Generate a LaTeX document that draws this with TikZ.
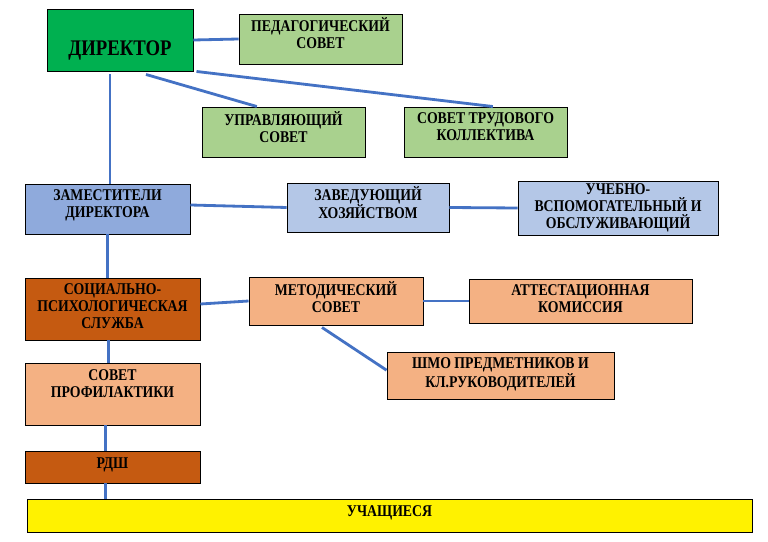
\documentclass[tikz,border=0pt]{standalone}
\usepackage{fontspec}
\setmainfont{Liberation Serif}[FakeStretch=0.84]
\definecolor{dirgreen}{HTML}{00B050}
\definecolor{lightgreen}{HTML}{A9D18E}
\definecolor{midblue}{HTML}{8FAADC}
\definecolor{paleblue}{HTML}{B4C7E7}
\definecolor{rust}{HTML}{C55A11}
\definecolor{peach}{HTML}{F4B183}
\definecolor{linkblue}{HTML}{4472C4}
\tikzset{
  orgbox/.style={draw=black, line width=0.8pt, inner sep=0pt, align=center,
    font=\bfseries\fontsize{14}{14.5}\selectfont},
  textlift/.style={text depth=#1},
  link/.style={draw=linkblue, line width=2.4pt}
}
\begin{document}
\begin{tikzpicture}[x=0.03cm, y=-0.03cm]
    \useasboundingbox (0,0) rectangle (768,542);

    % Draw the top level
    \node[orgbox, fill=dirgreen, minimum width=4.38cm, minimum height=1.86cm,
      font=\bfseries\fontsize{19}{19}\selectfont, text height=26pt, text depth=0pt]
      (dir) at (120,40) {ДИРЕКТОР};
    \node[orgbox, fill=lightgreen, minimum width=4.89cm, minimum height=1.5cm, textlift=10pt]
      (ped) at (320.5,39) {ПЕДАГОГИЧЕСКИЙ\\СОВЕТ};
    \node[orgbox, fill=lightgreen, minimum width=4.89cm, minimum height=1.5cm, textlift=8.5pt]
      (upr) at (283.5,132) {УПРАВЛЯЮЩИЙ\\СОВЕТ};
    \node[orgbox, fill=lightgreen, minimum width=4.89cm, minimum height=1.5cm, textlift=8.5pt]
      (stk) at (485.5,132) {СОВЕТ ТРУДОВОГО\\КОЛЛЕКТИВА};

    % Draw the deputies row
    \node[orgbox, fill=midblue, minimum width=4.95cm, minimum height=1.5cm, textlift=8.5pt]
      (zam) at (107.5,209) {ЗАМЕСТИТЕЛИ\\ДИРЕКТОРА};
    \node[orgbox, fill=paleblue, minimum width=4.86cm, minimum height=1.47cm, textlift=8.5pt]
      (zav) at (368,207.5) {ЗАВЕДУЮЩИЙ\\ХОЗЯЙСТВОМ};
    \node[orgbox, fill=paleblue, minimum width=6cm, minimum height=1.62cm]
      (uchv) at (618,208) {УЧЕБНО-\\ВСПОМОГАТЕЛЬНЫЙ И\\ОБСЛУЖИВАЮЩИЙ};

    % Draw the services
    \node[orgbox, fill=rust, minimum width=5.25cm, minimum height=1.86cm, textlift=5pt]
      (soc) at (112.5,309) {СОЦИАЛЬНО-\\ПСИХОЛОГИЧЕСКАЯ\\СЛУЖБА};
    \node[orgbox, fill=peach, minimum width=5.22cm, minimum height=1.44cm, textlift=7pt]
      (met) at (336,301) {МЕТОДИЧЕСКИЙ\\СОВЕТ};
    \node[orgbox, fill=peach, minimum width=6.69cm, minimum height=1.32cm, textlift=3.5pt]
      (att) at (580.5,301) {АТТЕСТАЦИОННАЯ\\КОМИССИЯ};
    \node[orgbox, fill=peach, minimum width=6.81cm, minimum height=1.41cm, textlift=5pt]
      (shmo) at (500.5,375.5) {ШМО ПРЕДМЕТНИКОВ И\\КЛ.РУКОВОДИТЕЛЕЙ};
    \node[orgbox, fill=peach, minimum width=5.25cm, minimum height=1.86cm, textlift=17pt]
      (prof) at (112.5,394) {СОВЕТ\\ПРОФИЛАКТИКИ};
    \node[orgbox, fill=rust, minimum width=5.25cm, minimum height=0.96cm, textlift=7pt]
      (rdsh) at (112.5,467) {РДШ};
    \node[orgbox, fill=yellow, minimum width=21.75cm, minimum height=0.99cm, textlift=7pt]
      (uch) at (389.5,515.5) {УЧАЩИЕСЯ};

    % Draw the links from the director
    \draw[link] (dir.east) -- (ped.west);
    \draw[link] ([xshift=0.78cm,yshift=-0.09cm]dir.south) -- ([xshift=-0.8cm]upr.north);
    \draw[link] ([xshift=0.09cm]dir.south east) -- ([xshift=0.22cm]stk.north);
    \draw[link] ([xshift=-0.3cm,yshift=-0.09cm]dir.south) -- ([xshift=-0.3cm]dir.south |- zam.north);

    % Draw the horizontal links
    \draw[link] ([yshift=0.12cm]zam.east) -- (zav.west);
    \draw[link] ([yshift=0.15cm]soc.east) -- (met.west);
    \foreach \a/\b in {zav/uchv, met/att}
    \draw[link] (\a.east) -- (\b.west);
    \draw[link] ([xshift=-0.42cm,yshift=-0.06cm]met.south) -- ([yshift=0.16cm]shmo.west);

    % Draw the left column
    \draw[link] (zam.south) -- (zam.south |- soc.north);
    \draw[link] ([xshift=-0.13cm]soc.south) -- ([xshift=-0.13cm]prof.north);
    \draw[link] ([xshift=-0.22cm]prof.south) -- ([xshift=-0.22cm]rdsh.north);
    \draw[link] ([xshift=-0.22cm]rdsh.south) -- ([xshift=-0.22cm]rdsh.south |- uch.north);
  \end{tikzpicture}
\end{document}
